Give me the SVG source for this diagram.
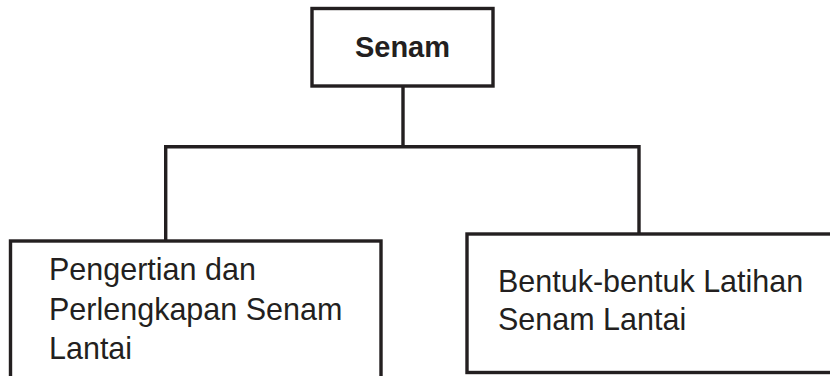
<svg xmlns="http://www.w3.org/2000/svg" width="830" height="376" viewBox="0 0 830 376">
<style>
.box{fill:#fff;stroke:#231f20;stroke-width:3.4}
.con{fill:none;stroke:#231f20;stroke-width:3.4}
.t{font-family:"Liberation Sans",Arial,sans-serif;font-size:30.5px;fill:#231f20}
.b{font-family:"Liberation Sans",Arial,sans-serif;font-size:29px;font-weight:bold;fill:#231f20}
</style>
<rect width="830" height="376" fill="#fff"/>
<g id="connectors">
<path class="con" d="M403 86V146.7M165.7 241V146.7H639V234"/>
</g>
<g id="node-senam">
<rect class="box" x="312" y="8.5" width="181" height="77.5"/>
<text class="b" x="402.5" y="57" text-anchor="middle">Senam</text>
</g>
<g id="node-pengertian">
<rect class="box" x="10.5" y="241" width="370.5" height="150"/>
<text class="t" x="49" y="280">Pengertian dan</text>
<text class="t" x="49" y="320">Perlengkapan Senam</text>
<text class="t" x="49" y="359">Lantai</text>
</g>
<g id="node-bentuk">
<rect class="box" x="467" y="234" width="380" height="138.5"/>
<text class="t" x="498" y="292">Bentuk-bentuk Latihan</text>
<text class="t" x="498" y="330">Senam Lantai</text>
</g>
</svg>
